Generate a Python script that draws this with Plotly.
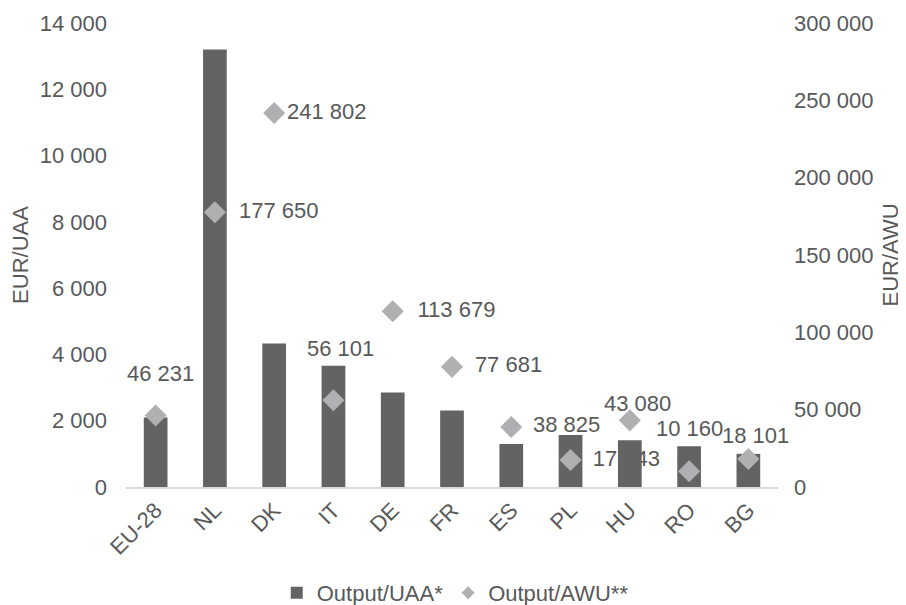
import plotly.graph_objects as go

categories = ["EU-28", "NL", "DK", "IT", "DE", "FR", "ES", "PL", "HU", "RO", "BG"]
output_uaa = [2100, 13200, 4330, 3660, 2850, 2310, 1300, 1570, 1410, 1230, 1000]
output_awu = [46231, 177650, 241802, 56101, 113679, 77681, 38825, 17443, 43080, 10160, 18101]

uaa_ticks = [0, 2000, 4000, 6000, 8000, 10000, 12000, 14000]
awu_ticks = [0, 50000, 100000, 150000, 200000, 250000, 300000]

def fmt(v):
    return f"{v:,}".replace(",", " ")

labels = [fmt(v) for v in output_awu]

# label placement style: 'right' labels go in a text trace beneath the bars,
# 'above' labels are annotations with pixel shifts
label_side = ["above", "right", "right", "above", "right", "right", "right", "right", "above", "above", "above"]
right_gap_size = [0, 37, 19, 0, 38, 35, 33, 34, 0, 0, 0]
above_shift = {0: (5, 42), 3: (7, 52), 8: (8, 17), 9: (0, 43), 10: (7, 24)}

BAR = "#636363"
DIA = "#B0B0B2"
TXT = "#595959"
FONT = "Liberation Sans, Arial, sans-serif"
FS = 22

fig = go.Figure()

# text labels placed to the right of markers (drawn in bottom subplot so bars cover them)
r_idx = [i for i, s in enumerate(label_side) if s == "right"]
fig.add_trace(go.Scatter(
    x=[categories[i] for i in r_idx],
    y=[output_awu[i] for i in r_idx],
    text=[labels[i] for i in r_idx],
    mode="markers+text",
    textposition="middle right",
    textfont=dict(size=FS, color=TXT, family=FONT),
    marker=dict(size=[right_gap_size[i] for i in r_idx], color="rgba(0,0,0,0)"),
    showlegend=False, hoverinfo="skip", yaxis="y", cliponaxis=False,
))

fig.add_trace(go.Bar(
    x=categories, y=output_uaa, name="Output/UAA*",
    marker=dict(color=BAR, line=dict(width=0)),
    yaxis="y2",
))

fig.add_trace(go.Scatter(
    x=categories, y=output_awu, mode="markers", name="Output/AWU**",
    marker=dict(symbol="diamond", size=17, color=DIA, line=dict(width=0)),
    yaxis="y3", showlegend=False, cliponaxis=False,
))

# legend-only entry with a small diamond
fig.add_trace(go.Scatter(
    x=[None], y=[None], mode="markers", name="Output/AWU**",
    marker=dict(symbol="diamond", size=10, color=DIA),
    yaxis="y3", showlegend=True,
))

for i, (dx, dy) in above_shift.items():
    fig.add_annotation(
        x=categories[i], y=output_awu[i], xref="x", yref="y3",
        text=labels[i], showarrow=False, xshift=dx, yshift=dy,
        xanchor="center", yanchor="middle",
        font=dict(size=FS, color=TXT, family=FONT),
    )

fig.update_layout(
    width=898, height=597,
    margin=dict(l=118, r=128, t=15, b=118, autoexpand=False),
    paper_bgcolor="white", plot_bgcolor="white",
    separators=". ",
    font=dict(family=FONT, size=FS, color=TXT),
    bargap=0.6,
    xaxis=dict(
        type="category", categoryorder="array", categoryarray=categories,
        range=[-0.5, len(categories) - 0.5],
        showline=True, linecolor="#D9D9D9", linewidth=1.5,
        showgrid=False, zeroline=False, ticks="", automargin=False,
        tickangle=-45, tickfont=dict(size=FS, color=TXT),
    ),
    yaxis=dict(range=[0, 300000], visible=False, fixedrange=True, automargin=False),
    yaxis2=dict(
        overlaying="y", side="left", range=[0, 14000],
        tickvals=uaa_ticks, ticktext=[fmt(v) for v in uaa_ticks],
        showgrid=False, zeroline=False, showline=False, ticks="",
        ticklabelstandoff=18, automargin=False,
        tickfont=dict(size=FS, color=TXT),
        title=dict(text="EUR/UAA", font=dict(size=FS, color=TXT), standoff=10),
    ),
    yaxis3=dict(
        overlaying="y", side="right", range=[0, 300000],
        tickvals=awu_ticks, ticktext=[fmt(v) for v in awu_ticks],
        showgrid=False, zeroline=False, showline=False, ticks="",
        ticklabelstandoff=15, automargin=False,
        tickfont=dict(size=FS, color=TXT),
        title=dict(text="EUR/AWU", font=dict(size=FS, color=TXT), standoff=10),
    ),
    legend=dict(
        orientation="h", x=0.505, xanchor="center", y=-0.2285, yanchor="middle",
        font=dict(size=FS, color=TXT), itemwidth=30, bgcolor="rgba(0,0,0,0)",
        traceorder="normal",
    ),
)

fig.write_html("out.html")
